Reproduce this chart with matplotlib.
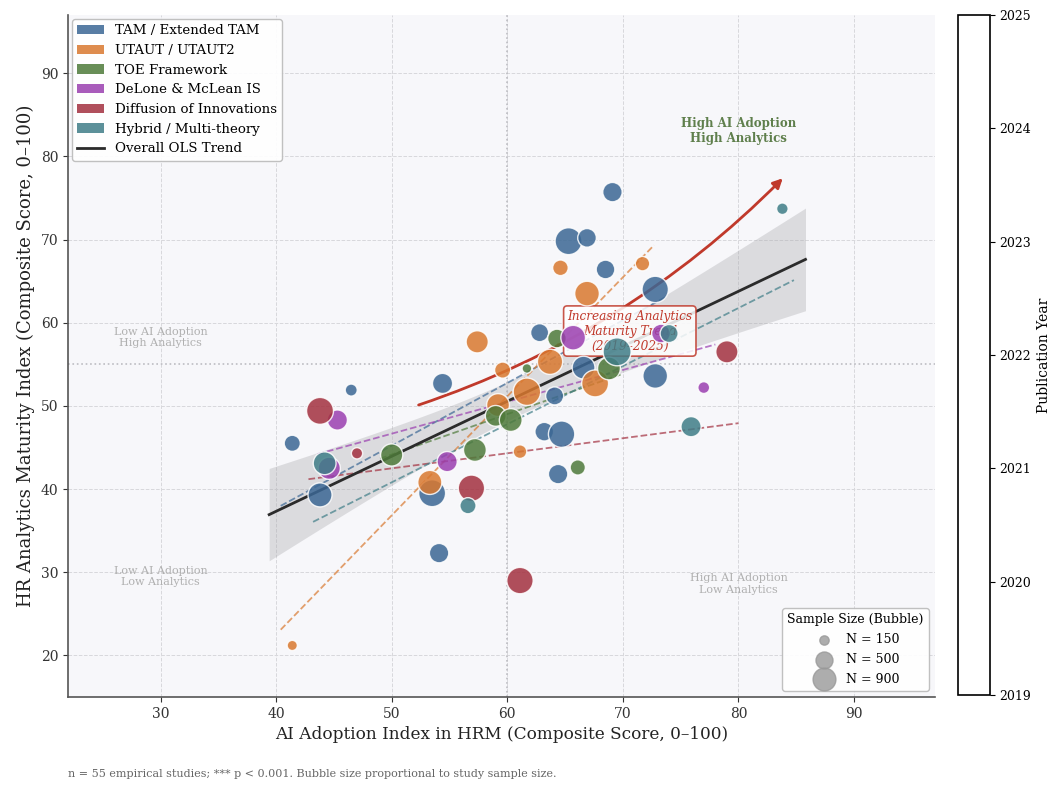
import numpy as np
import matplotlib
matplotlib.use('Agg')
import matplotlib.pyplot as plt
from matplotlib.patches import Patch
from matplotlib.lines import Line2D
from matplotlib.colors import ListedColormap, Normalize
from matplotlib.cm import ScalarMappable

plt.rcParams['font.family'] = ['DejaVu Serif']

# ---------------- data ----------------
theories = ['TAM / Extended TAM', 'UTAUT / UTAUT2', 'TOE Framework',
            'DeLone & McLean IS', 'Diffusion of Innovations', 'Hybrid / Multi-theory']
colors = ['#3b6794', '#d9782f', '#4e7a3a', '#9a3fb0', '#a3303f', '#3f7d87']

tam_x = [69.1, 65.3, 66.9, 68.5, 72.8, 62.8, 54.4, 46.5, 66.6, 64.1, 63.2, 64.7, 72.8, 41.4, 43.8, 53.5, 64.4, 54.1]
tam_y = [75.7, 69.8, 70.2, 66.4, 64.0, 58.8, 52.7, 51.9, 54.6, 51.2, 46.9, 46.6, 53.6, 45.5, 39.3, 39.5, 41.8, 32.3]
tam_n = [650, 1250, 600, 600, 1200, 560, 700, 250, 900, 560, 600, 1200, 1050, 450, 1000, 1250, 650, 650]

utaut_x = [64.6, 71.7, 66.9, 57.4, 59.6, 63.7, 61.7, 67.6, 59.2, 53.3, 61.1, 41.4]
utaut_y = [66.6, 67.1, 63.5, 57.7, 54.3, 55.3, 51.7, 52.7, 50.1, 40.8, 44.5, 21.2]
utaut_n = [420, 360, 1050, 850, 450, 1100, 1300, 1250, 900, 1000, 320, 180]

toe_x = [64.3, 61.7, 68.8, 59.0, 60.3, 57.2, 50.0, 66.1]
toe_y = [58.1, 54.5, 54.5, 48.8, 48.3, 44.7, 44.1, 42.6]
toe_n = [600, 160, 900, 750, 900, 900, 850, 400]

delone_x = [65.7, 73.3, 45.3, 44.6, 54.8, 77.0]
delone_y = [58.2, 58.7, 48.3, 42.5, 43.3, 52.2]
delone_n = [1050, 600, 700, 850, 700, 240]

doi_x = [43.8, 47.0, 56.9, 61.1, 79.0]
doi_y = [49.4, 44.3, 40.1, 29.0, 56.5]
doi_n = [1250, 220, 1200, 1200, 850]

hybrid_x = [83.8, 74.0, 69.5, 75.9, 56.6, 44.2]
hybrid_y = [73.7, 58.7, 56.5, 47.5, 38.0, 43.1]
hybrid_n = [230, 560, 1350, 700, 450, 900]

groups_x = [tam_x, utaut_x, toe_x, delone_x, doi_x, hybrid_x]
groups_y = [tam_y, utaut_y, toe_y, delone_y, doi_y, hybrid_y]
groups_n = [tam_n, utaut_n, toe_n, delone_n, doi_n, hybrid_n]

legend_sizes = [150, 500, 900]
year_ticks = [2019, 2020, 2021, 2022, 2023, 2024, 2025]

arrow_start = (52.1, 50.0)
arrow_end = (84.0, 77.6)

SIZE_K = 0.3
T_CRIT = 2.006

# ---------------- figure ----------------
fig = plt.figure(figsize=(10.58, 7.86), dpi=100)
ax = fig.add_axes([0.0643, 0.1132, 0.8194, 0.8678])
ax.set_facecolor('#f7f7fa')
ax.set_xlim(22, 97)
ax.set_ylim(15, 97)
ax.set_xticks([30, 40, 50, 60, 70, 80, 90])
ax.set_yticks([20, 30, 40, 50, 60, 70, 80, 90])
ax.grid(True, linestyle='--', color='#d8d8dc', linewidth=0.7, zorder=0)
ax.set_axisbelow(True)
for s in ['top', 'right']:
    ax.spines[s].set_visible(False)
for s in ['left', 'bottom']:
    ax.spines[s].set_color('#555555')
    ax.spines[s].set_linewidth(1.2)
ax.tick_params(labelsize=10, colors='#333333')

# quadrant dividers
ax.axvline(60, color='#bdbdc2', linestyle=':', linewidth=1.2, zorder=1)
ax.axhline(55, color='#bdbdc2', linestyle=':', linewidth=1.2, zorder=1)

# quadrant labels
qkw = dict(ha='center', va='center', fontsize=8, color='#b0b0b0')
ax.text(30, 58.2, 'Low AI Adoption\nHigh Analytics', **qkw)
ax.text(30, 29.5, 'Low AI Adoption\nLow Analytics', **qkw)
ax.text(80, 28.6, 'High AI Adoption\nLow Analytics', **qkw)
ax.text(80, 83.1, 'High AI Adoption\nHigh Analytics', ha='center', va='center',
        fontsize=8.5, color='#5f7f4c', fontweight='bold')

# overall OLS
all_x = np.concatenate([np.array(g, float) for g in groups_x])
all_y = np.concatenate([np.array(g, float) for g in groups_y])
b1, b0 = np.polyfit(all_x, all_y, 1)
xs = np.linspace(all_x.min() - 2, all_x.max() + 2, 200)
yhat = b0 + b1 * xs
res = all_y - (b0 + b1 * all_x)
n = len(all_x)
s_err = np.sqrt(np.sum(res ** 2) / (n - 2))
sxx = np.sum((all_x - all_x.mean()) ** 2)
half = T_CRIT * s_err * np.sqrt(1.0 / n + (xs - all_x.mean()) ** 2 / sxx)
ax.fill_between(xs, yhat - half, yhat + half, color='#a8a8ac', alpha=0.35, linewidth=0, zorder=1.5)
ax.plot(xs, yhat, color='#2b2b2b', linewidth=2.0, zorder=2.5)

# per-theory trends
for gx, gy, c in zip(groups_x, groups_y, colors):
    gx = np.array(gx, float); gy = np.array(gy, float)
    c1, c0 = np.polyfit(gx, gy, 1)
    xx = np.linspace(gx.min() - 1, gx.max() + 1, 50)
    ax.plot(xx, c0 + c1 * xx, linestyle='--', color=c, alpha=0.7, linewidth=1.3, zorder=2)

# trend arrow
ax.annotate('', xy=arrow_end, xytext=arrow_start,
            arrowprops=dict(arrowstyle='-|>', color='#c0392b', lw=2,
                            mutation_scale=14, connectionstyle='arc3,rad=0.12'),
            zorder=2.6)
ax.text(70.6, 59.0, 'Increasing Analytics\nMaturity Trend\n(2019\u20132025)', ha='center', va='center',
        fontsize=8.7, style='italic', color='#c0392b', zorder=2.8,
        bbox=dict(boxstyle='round,pad=0.3', fc='white', ec='#c0392b', alpha=0.85, lw=1.2))

# bubbles
for gx, gy, gn, c in zip(groups_x, groups_y, groups_n, colors):
    ax.scatter(gx, gy, s=np.array(gn) * SIZE_K, color=c, alpha=0.85,
               edgecolor='white', linewidth=1.0, zorder=3)

ax.set_xlabel('AI Adoption Index in HRM (Composite Score, 0\u2013100)', fontsize=12.2, color='#222222')
ax.set_ylabel('HR Analytics Maturity Index (Composite Score, 0\u2013100)', fontsize=13, color='#222222')

# legends
handles = [Patch(facecolor=c, alpha=0.85, label=t) for t, c in zip(theories, colors)]
handles.append(Line2D([0], [0], color='#2b2b2b', lw=2, label='Overall OLS Trend'))
leg1 = ax.legend(handles=handles, loc='upper left', fontsize=9.6, framealpha=0.92,
                 edgecolor='#bbbbbb', borderaxespad=0.3, labelspacing=0.5)
ax.add_artist(leg1)

size_handles = [ax.scatter([], [], s=v * SIZE_K, color='#999999', alpha=0.8, label=f'N = {v}')
                for v in legend_sizes]
ax.legend(handles=size_handles, loc='lower right', fontsize=9, title='Sample Size (Bubble)',
          title_fontsize=9, framealpha=0.92, edgecolor='#bbbbbb', borderaxespad=0.5,
          labelspacing=0.55)

# colorbar
cax = fig.add_axes([0.9055, 0.1158, 0.030, 0.865])
cb = fig.colorbar(ScalarMappable(norm=Normalize(2019, 2025), cmap=ListedColormap(['white'])), cax=cax)
cb.set_ticks(year_ticks)
cb.ax.tick_params(labelsize=9)
cb.set_label('Publication Year', fontsize=10)
cb.outline.set_linewidth(1.2)

fig.text(0.064, 0.012, 'n = 55 empirical studies; *** p < 0.001. Bubble size proportional to study sample size.',
         fontsize=8, color='#666666')

fig.savefig('out.png', dpi=100)
